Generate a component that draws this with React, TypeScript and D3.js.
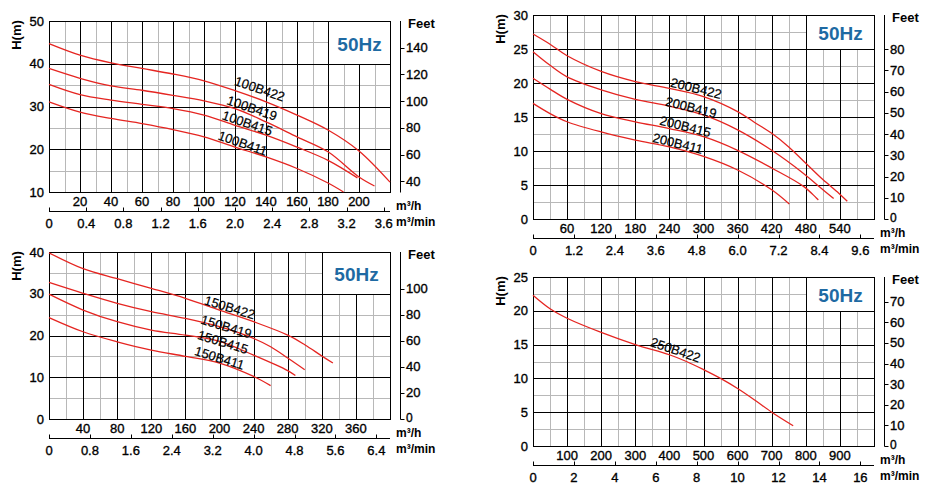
import React from "react";
import * as d3 from "d3";

type Pt = [number, number];

// ---------- Panel 1 : 100B series ----------
const s100B422: Pt[] = [[0,44.7],[20,42.0],[40,40.2],[60,38.9],[80,37.6],[100,36.0],[120,33.7],[140,31.1],[160,28.0],[180,24.5],[200,19.6],[220,12.3]];
const s100B419: Pt[] = [[0,38.9],[20,36.6],[40,34.8],[60,33.8],[80,32.6],[100,31.3],[120,29.5],[140,26.4],[160,22.9],[180,19.4],[200,13.5],[210,11.4]];
const s100B415: Pt[] = [[0,35.2],[20,32.8],[40,31.5],[60,30.5],[80,29.5],[100,28.0],[120,25.6],[140,23.3],[160,20.5],[180,17.4],[199,13.3]];
const s100B411: Pt[] = [[0,31.1],[20,28.7],[40,27.2],[60,26.0],[80,24.6],[100,22.9],[120,20.5],[140,18.2],[160,15.5],[180,12.1],[190,10.0]];
const names100 = ["100B422", "100B419", "100B415", "100B411"];
const labelPos100: Pt[] = [[136,34.1],[131,29.6],[128,26.1],[125,21.4]];
const flowTicks100 = [20,40,60,80,100,120,140,160,180,200];
const minTicks100 = ["0","0.4","0.8","1.2","1.6","2.0","2.4","2.8","3.2","3.6"];
const headTicks100 = [10,20,30,40,50];
const feetTicks100 = [40,60,80,100,120,140];

// ---------- Panel 2 : 200B series ----------
const s200B422: Pt[] = [[0,27.2],[30,25.7],[60,24.0],[120,21.7],[180,20.2],[240,19.2],[300,18.0],[360,15.8],[390,14.2],[420,12.6],[450,10.6],[480,8.2],[510,5.8],[538,3.8],[553,2.6]];
const s200B419: Pt[] = [[0,24.6],[30,22.6],[60,20.9],[120,19.0],[180,17.6],[240,16.6],[300,15.3],[360,13.1],[420,10.1],[476,6.7],[506,4.6],[529,3.0]];
const s200B415: Pt[] = [[0,20.7],[30,19.1],[60,17.6],[120,15.5],[180,14.3],[240,13.3],[300,12.1],[360,10.1],[420,7.5],[476,4.8],[502,2.8]];
const s200B411: Pt[] = [[0,17.0],[30,15.5],[60,14.3],[120,12.8],[180,11.6],[240,10.6],[300,9.2],[360,7.2],[420,4.3],[451,2.2]];
const names200 = ["200B422", "200B419", "200B415", "200B411"];
const labelPos200: Pt[] = [[287,19.2],[278,16.4],[268,13.6],[255,11.1]];
const flowTicks200 = [60,120,180,240,300,360,420,480,540];
const minTicks200 = ["0","1.2","2.4","3.6","4.8","6.0","7.2","8.4","9.6"];
const headTicks200 = [0,5,10,15,20,25,30];
const feetTicks200 = [0,10,20,30,40,50,60,70,80];

// ---------- Panel 3 : 150B series ----------
const s150B422: Pt[] = [[0,39.8],[40,36.0],[80,33.6],[120,31.3],[160,28.9],[200,26.1],[240,23.3],[280,20.1],[300,17.8],[320,15.1],[333,13.4]];
const s150B419: Pt[] = [[0,32.7],[40,30.1],[80,27.7],[120,25.7],[160,24.1],[200,22.1],[240,19.3],[260,17.3],[280,14.6],[300,11.8]];
const s150B415: Pt[] = [[0,29.9],[40,26.1],[80,23.3],[120,21.3],[160,20.1],[200,18.6],[240,15.3],[280,11.6],[289,10.4]];
const s150B411: Pt[] = [[0,24.3],[40,20.9],[80,18.5],[120,16.5],[160,15.0],[200,13.4],[240,10.2],[260,8.0]];
const names150 = ["150B422", "150B419", "150B415", "150B411"];
const labelPos150: Pt[] = [[212,26.7],[208,22.1],[204,18.4],[200,14.6]];
const flowTicks150 = [40,80,120,160,200,240,280,320,360];
const minTicks150 = ["0","0.8","1.6","2.4","3.2","4.0","4.8","5.6","6.4"];
const headTicks150 = [0,10,20,30,40];
const feetTicks150 = [0,20,40,60,80,100];

// ---------- Panel 4 : 250B series ----------
const s250B422: Pt[] = [[0,22.3],[50,20.3],[100,18.9],[200,16.8],[300,15.0],[400,13.5],[450,12.5],[500,11.3],[550,10.0],[600,8.5],[650,6.8],[700,5.0],[763,3.0]];
const names250 = ["250B422"];
const labelPos250: Pt[] = [[418,14.2]];
const flowTicks250 = [100,200,300,400,500,600,700,800,900];
const minTicks250 = ["0","2","4","6","8","10","12","14","16"];
const headTicks250 = [0,5,10,15,20,25];
const feetTicks250 = [0,10,20,30,40,50,60,70];

interface PanelCfg {
  left: number; top: number; right: number; bottom: number;
  xMax: number; yMin: number; yMax: number;
  xMinor: number; xMajor: number; yMinor: number; yMajor: number;
  boxX: number; boxY: number; feetFactor: number; angle: number;
  series: Pt[][]; names: string[]; labelPos: Pt[];
  flowTicks: number[]; minTicks: string[]; headTicks: number[]; feetTicks: number[];
}

const panels: PanelCfg[] = [
  { left: 49, top: 21, right: 390, bottom: 192, xMax: 220, yMin: 10, yMax: 50, xMinor: 10, xMajor: 20, yMinor: 5, yMajor: 10,
    boxX: 180, boxY: 40, feetFactor: 3.2, angle: 19, series: [s100B422, s100B419, s100B415, s100B411], names: names100, labelPos: labelPos100,
    flowTicks: flowTicks100, minTicks: minTicks100, headTicks: headTicks100, feetTicks: feetTicks100 },
  { left: 533, top: 15, right: 874, bottom: 219, xMax: 600, yMin: 0, yMax: 30, xMinor: 30, xMajor: 60, yMinor: 2.5, yMajor: 5,
    boxX: 480, boxY: 25, feetFactor: 3.2, angle: 14, series: [s200B422, s200B419, s200B415, s200B411], names: names200, labelPos: labelPos200,
    flowTicks: flowTicks200, minTicks: minTicks200, headTicks: headTicks200, feetTicks: feetTicks200 },
  { left: 49, top: 252, right: 390, bottom: 419, xMax: 400, yMin: 0, yMax: 40, xMinor: 20, xMajor: 40, yMinor: 5, yMajor: 10,
    boxX: 320, boxY: 30, feetFactor: 3.2, angle: 17, series: [s150B422, s150B419, s150B415, s150B411], names: names150, labelPos: labelPos150,
    flowTicks: flowTicks150, minTicks: minTicks150, headTicks: headTicks150, feetTicks: feetTicks150 },
  { left: 533, top: 277, right: 874, bottom: 446, xMax: 1000, yMin: 0, yMax: 25, xMinor: 50, xMajor: 100, yMinor: 2.5, yMajor: 5,
    boxX: 800, boxY: 20, feetFactor: 3.28, angle: 19, series: [s250B422], names: names250, labelPos: labelPos250,
    flowTicks: flowTicks250, minTicks: minTicks250, headTicks: headTicks250, feetTicks: feetTicks250 },
];

const FONT = "'Liberation Sans', Arial, Helvetica, sans-serif";
const RED = "#e52521";
const GRAY = "#b8b8b8";
const BLUE = "#1e6aa3";
const INK = "#000";
const THICK = { stroke: INK, strokeWidth: 0.35 } as const;

const crisp = (v: number) => Math.round(v) + 0.5;

function Panel({ c }: { c: PanelCfg }) {
  const x = d3.scaleLinear().domain([0, c.xMax]).range([c.left, c.right]);
  const y = d3.scaleLinear().domain([c.yMin, c.yMax]).range([c.bottom, c.top]);
  const yFeet = d3.scaleLinear().domain([c.yMin * c.feetFactor, c.yMax * c.feetFactor]).range([c.bottom, c.top]);
  const line = d3.line<Pt>().x(d => x(d[0])).y(d => y(d[1])).curve(d3.curveCatmullRom.alpha(0.5));

  const xs = d3.range(0, c.xMax + 1e-6, c.xMinor);
  const ys = d3.range(c.yMin, c.yMax + 1e-6, c.yMinor);
  const isMajor = (v: number, m: number) => Math.abs(v / m - Math.round(v / m)) < 1e-6;

  const gridMinor: JSX.Element[] = [];
  const gridMajor: JSX.Element[] = [];
  xs.forEach((v, i) => {
    const el = <line key={"vx" + i} x1={crisp(x(v))} x2={crisp(x(v))} y1={y(c.yMin)} y2={y(c.yMax)}
      stroke={isMajor(v, c.xMajor) ? "#000" : GRAY} strokeWidth={1} />;
    (isMajor(v, c.xMajor) ? gridMajor : gridMinor).push(el);
  });
  ys.forEach((v, i) => {
    const el = <line key={"hy" + i} y1={crisp(y(v))} y2={crisp(y(v))} x1={x(0)} x2={x(c.xMax)}
      stroke={isMajor(v - c.yMin, c.yMajor) ? "#000" : GRAY} strokeWidth={1} />;
    (isMajor(v - c.yMin, c.yMajor) ? gridMajor : gridMinor).push(el);
  });

  const minAxisY = c.bottom + 19;
  const feetX = c.right + 10;
  const bx = crisp(x(c.boxX));
  const by = crisp(y(c.boxY));
  const tx = crisp(x(c.xMax));
  const ty = crisp(y(c.yMax));

  return (
    <g fontFamily={FONT}>
      {gridMinor}
      {gridMajor}
      <rect x={crisp(x(0))} y={ty} width={tx - crisp(x(0))} height={crisp(y(c.yMin)) - ty} fill="none" stroke="#000" />
      {/* 50Hz box */}
      <rect x={bx} y={ty} width={tx - bx} height={by - ty} fill="#fff" stroke="#000" />
      <text x={(bx + tx) / 2} y={(by + ty) / 2 + 1} textAnchor="middle" dominantBaseline="central" fontSize={19} fontWeight="bold" fill={BLUE}>50Hz</text>

      {/* curves */}
      {c.series.map((s, i) => (
        <path key={"s" + i} d={line(s) || ""} fill="none" stroke={RED} strokeWidth={1.3} />
      ))}
      {c.names.map((n, i) => (
        <text key={"l" + i} x={x(c.labelPos[i][0])} y={y(c.labelPos[i][1])} textAnchor="middle" dominantBaseline="central"
          fontSize={13} fill={INK} {...{ stroke: INK, strokeWidth: 0.2 }}
          transform={`rotate(${c.angle},${x(c.labelPos[i][0])},${y(c.labelPos[i][1])})`}>{n}</text>
      ))}

      {/* left head axis */}
      {c.headTicks.map(v => (
        <text key={"h" + v} x={c.left - 5} y={y(v)} textAnchor="end" dominantBaseline="central" fontSize={13} fill={INK} {...THICK}>{v}</text>
      ))}
      <text x={c.left - 33} y={c.top + 14} textAnchor="middle" dominantBaseline="central" fontSize={13} fontWeight="bold" fill={INK}
        transform={`rotate(-90,${c.left - 33},${c.top + 14})`}>H(m)</text>

      {/* feet axis */}
      <line x1={crisp(feetX)} x2={crisp(feetX)} y1={c.top} y2={c.bottom + 0.5} stroke="#000" />
      {c.feetTicks.map(v => (
        <g key={"f" + v}>
          <line x1={crisp(feetX)} x2={crisp(feetX) + 4} y1={crisp(yFeet(v))} y2={crisp(yFeet(v))} stroke="#000" />
          <text x={feetX + 6} y={yFeet(v) - (v === 0 ? 1 : 0)} dominantBaseline="central" fontSize={v === 0 ? 12 : 13} fill={INK} {...THICK}>{v}</text>
        </g>
      ))}
      <text x={c.right + 18} y={c.top + 2} dominantBaseline="central" fontSize={13} fontWeight="bold" fill={INK}>Feet</text>

      {/* flow m3/h labels */}
      {c.flowTicks.map(v => (
        <text key={"q" + v} x={x(v)} y={c.bottom + 9.5} textAnchor="middle" dominantBaseline="central" fontSize={13} fill={INK} {...THICK}>{v}</text>
      ))}
      <text x={c.right + 6} y={c.bottom + 13.5} dominantBaseline="central" fontSize={12} fontWeight="bold" fill={INK}>m³/h</text>

      {/* m3/min axis */}
      <line x1={c.left} x2={c.right} y1={crisp(minAxisY)} y2={crisp(minAxisY)} stroke="#000" />
      {c.minTicks.map(t => (
        <g key={"m" + t}>
          <line x1={crisp(x(+t * 60))} x2={crisp(x(+t * 60))} y1={crisp(minAxisY)} y2={crisp(minAxisY) - 4} stroke="#000" />
          <text x={x(+t * 60)} y={minAxisY + 12} textAnchor="middle" dominantBaseline="central" fontSize={13} fill={INK} {...THICK}>{t}</text>
        </g>
      ))}
      <text x={c.right + 6} y={c.bottom + 29.5} dominantBaseline="central" fontSize={12} fontWeight="bold" fill={INK}>m³/min</text>
    </g>
  );
}

export default function App() {
  return (
    <svg width={947} height={495} viewBox="0 0 947 495"
      style={{ position: "absolute", left: 0, top: 0, background: "#fff" }}>
      <rect x={0} y={0} width={947} height={495} fill="#fff" />
      {panels.map((c, i) => <Panel key={i} c={c} />)}
    </svg>
  );
}
